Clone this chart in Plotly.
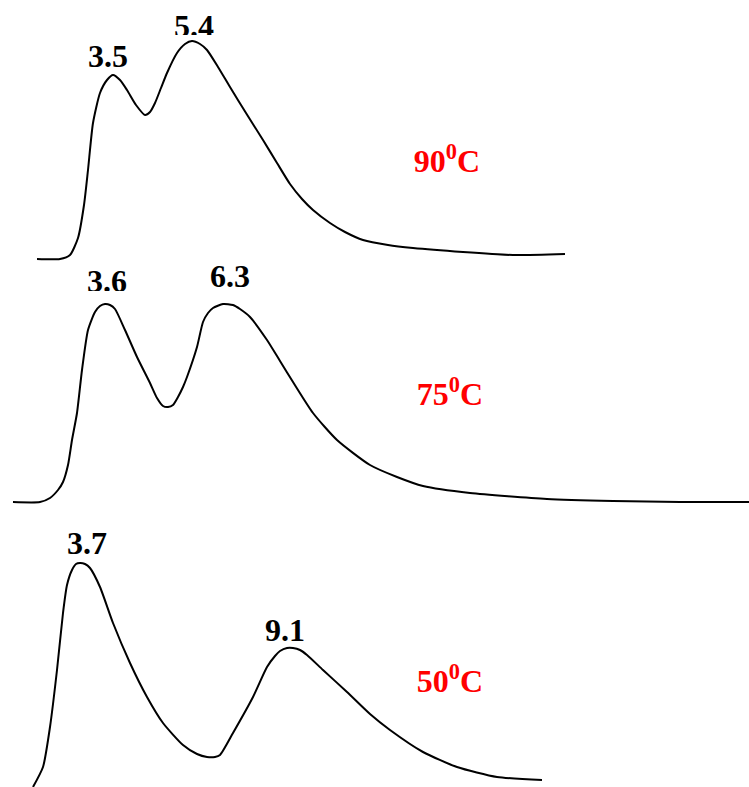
import plotly.graph_objects as go

# Curve traces (x = retention position, y = signal position in image units, y grows downward)
x_90 = [37, 60, 70, 78, 84, 88, 93, 100, 107, 113, 120, 127, 136, 145, 150, 155, 161, 167, 177, 185, 192, 200, 207, 218, 230, 246, 263, 277, 290, 302, 313, 330, 345, 363, 388, 413, 463, 513, 565]
y_90 = [259, 259, 255, 238, 205, 170, 123, 93, 80, 75, 80, 90, 105, 115, 112, 103, 88, 73, 53, 44, 41, 44, 50, 67, 87, 113, 140, 163, 184, 199, 210, 223, 232, 240, 245, 248, 252, 255, 254]

x_75 = [13, 40, 50, 58, 63, 68, 72, 77, 82, 88, 95, 100, 105, 110, 115, 125, 137, 150, 157, 163, 168, 173, 178, 183, 187, 197, 203, 208, 213, 223, 233, 240, 250, 267, 280, 293, 313, 337, 370, 397, 423, 470, 547, 613, 680, 749]
y_75 = [502, 502, 498, 490, 482, 465, 440, 413, 370, 330, 312, 306, 304, 305, 309, 330, 357, 383, 398, 406, 407, 405, 397, 387, 377, 347, 322, 313, 308, 304, 305, 309, 317, 340, 361, 382, 413, 440, 465, 477, 486, 493, 499, 501, 502, 502]

x_50 = [33, 43, 50, 57, 63, 67, 72, 76, 80, 85, 90, 100, 113, 130, 147, 163, 183, 197, 207, 215, 220, 233, 253, 267, 275, 280, 287, 293, 300, 307, 323, 347, 370, 390, 423, 457, 497, 542]
y_50 = [787, 767, 727, 670, 613, 585, 570, 564, 563, 564, 568, 587, 623, 663, 697, 723, 745, 754, 757, 757, 755, 733, 697, 667, 656, 651, 648, 648, 650, 655, 670, 692, 714, 730, 752, 767, 777, 780]

peak_labels = ["3.5", "5.4", "3.6", "6.3", "3.7", "9.1"]
peak_x = [108, 194, 107, 230, 87, 285]
peak_y = [59, 29, 284, 279, 546, 633]

temp_labels = ["90<sup>0</sup>C", "75<sup>0</sup>C", "50<sup>0</sup>C"]
temp_x = [447, 450, 450]
temp_y = [164, 397, 684]

fig = go.Figure()
for xs, ys in [(x_90, y_90), (x_75, y_75), (x_50, y_50)]:
    fig.add_trace(go.Scatter(x=xs, y=ys, mode="lines",
                             line=dict(color="black", width=2, shape="spline", smoothing=0.6),
                             hoverinfo="skip", showlegend=False))

fig.add_trace(go.Scatter(x=peak_x, y=peak_y, mode="text",
                         text=["<b>" + t + "</b>" for t in peak_labels],
                         textposition="middle center",
                         textfont=dict(family="Liberation Serif", size=32, color="black", weight="bold"),
                         hoverinfo="skip", showlegend=False))
fig.add_trace(go.Scatter(x=temp_x, y=temp_y, mode="text",
                         text=["<b>" + t + "</b>" for t in temp_labels],
                         textposition="middle center",
                         textfont=dict(family="Liberation Serif", size=32, color="red", weight="bold"),
                         hoverinfo="skip", showlegend=False))

# white masks that clip the bottoms of two labels as in the original
fig.add_shape(type="rect", x0=170, x1=220, y0=35, y1=40, fillcolor="white", line_width=0, layer="above")
fig.add_shape(type="rect", x0=84, x1=132, y0=291, y1=297, fillcolor="white", line_width=0, layer="above")

fig.update_layout(
    width=749, height=787,
    margin=dict(l=0, r=0, t=0, b=0),
    paper_bgcolor="white", plot_bgcolor="white",
    xaxis=dict(range=[0, 749], visible=False, fixedrange=True),
    yaxis=dict(range=[787, 0], visible=False, fixedrange=True),
)

fig.write_html("out.html", config={"displayModeBar": False},
               post_script="document.body.style.margin='0';document.body.style.overflow='hidden';")
